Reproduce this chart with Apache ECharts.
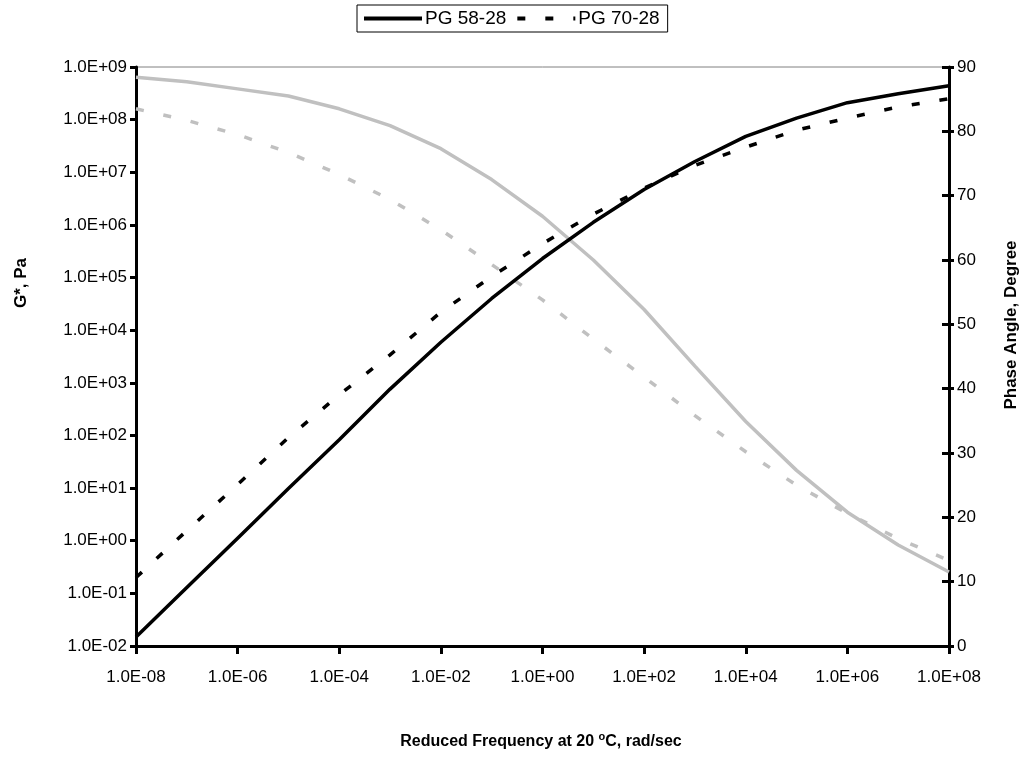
<!DOCTYPE html>
<html>
<head>
<meta charset="utf-8">
<title>Master curves: PG 58-28 and PG 70-28</title>
<script src="https://cdn.jsdelivr.net/npm/echarts@6/dist/echarts.min.js"></script>
<style>
  html, body { margin: 0; padding: 0; background: #fff; }
  #chart { width: 1026px; height: 759px; }
</style>
</head>
<body>
<div id="chart"></div>
<script>
// Reduced frequency at 20 °C (rad/sec), one point per decade
const freq = [1e-8, 1e-7, 1e-6, 1e-5, 1e-4, 1e-3, 1e-2, 1e-1, 1e0,
              1e1, 1e2, 1e3, 1e4, 1e5, 1e6, 1e7, 1e8];

// Dynamic shear modulus |G*| (Pa)
const gStarPG5828 = [0.0148, 0.129, 1.12, 9.8, 83, 760, 5900, 4.0e4, 2.3e5,
                     1.12e6, 4.7e6, 1.6e7, 4.8e7, 1.07e8, 2.1e8, 3.1e8, 4.4e8];
const gStarPG7028 = [0.20, 1.55, 11.7, 91, 590, 3400, 2.2e4, 1.05e5, 4.4e5,
                     1.6e6, 5.0e6, 1.35e7, 3.0e7, 6.3e7, 1.07e8, 1.74e8, 2.5e8];

// Phase angle (degrees)
const phasePG5828 = [88.4, 87.7, 86.6, 85.5, 83.5, 80.9, 77.3, 72.5, 66.8,
                     60.0, 52.3, 43.5, 34.9, 27.3, 20.8, 15.7, 11.5];
const phasePG7028 = [83.5, 81.7, 79.5, 76.7, 73.3, 69.4, 64.7, 59.3, 53.8,
                     47.7, 41.8, 35.8, 30.2, 25.0, 20.6, 16.7, 13.3];

const legendNames = ['PG 58-28', 'PG 70-28'];
const xTitle = 'Reduced Frequency at 20 {sup|o}C, rad/sec';
const yLeftTitle = 'G*, Pa';
const yRightTitle = 'Phase Angle, Degree';

const FONT = 'Liberation Sans, Arial, sans-serif';
const GREY = '#c0c0c0';

// 1.0E+09 style scientific labels
function sciLabel(v) {
  const e = Math.round(Math.log10(v));
  const mag = Math.abs(e);
  return '1.0E' + (e < 0 ? '-' : '+') + (mag < 10 ? '0' : '') + mag;
}

const pairs = arr => freq.map((f, i) => [f, arr[i]]);

const chart = echarts.init(document.getElementById('chart'), null, { renderer: 'canvas' });

chart.setOption({
  animation: false,
  backgroundColor: '#fff',
  textStyle: { fontFamily: FONT },
  grid: {
    left: 136, right: 77, top: 67, bottom: 113,
    show: true, borderColor: '#808080', borderWidth: 1, backgroundColor: 'transparent'
  },
  legend: {
    data: legendNames,
    left: 357, top: 5,
    padding: [4, 8, 4, 5],
    itemGap: 9,
    itemWidth: 58, itemHeight: 14,
    borderColor: '#000', borderWidth: 1,
    itemStyle: { opacity: 0 },
    lineStyle: { width: 4 },
    textStyle: { fontFamily: FONT, fontSize: 19, color: '#000', padding: [0, 0, 0, -2] }
  },
  xAxis: {
    type: 'log', logBase: 10,
    min: 1e-8, max: 1e8, interval: 2,
    axisLine: { lineStyle: { color: '#000', width: 3 } },
    axisTick: { show: true, inside: false, length: 8, lineStyle: { color: '#000', width: 3 } },
    axisLabel: { formatter: sciLabel, fontSize: 17, color: '#000', fontFamily: FONT, margin: 23 },
    splitLine: { show: false },
    minorTick: { show: false }
  },
  yAxis: [
    {
      type: 'log', logBase: 10,
      min: 1e-2, max: 1e9, interval: 1,
      position: 'left',
      axisLine: { show: true, lineStyle: { color: '#000', width: 3 } },
      axisTick: { show: true, inside: false, length: 6, lineStyle: { color: '#000', width: 3 } },
      axisLabel: { formatter: sciLabel, fontSize: 17, color: '#000', fontFamily: FONT, margin: 9 },
      splitLine: { show: false }
    },
    {
      type: 'value',
      min: 0, max: 90, interval: 10,
      position: 'right',
      axisLine: { show: true, lineStyle: { color: '#000', width: 3 } },
      axisTick: { show: true, inside: true, length: 7, lineStyle: { color: '#000', width: 3 } },
      axisLabel: { fontSize: 17, color: '#000', fontFamily: FONT, margin: 8 },
      splitLine: { show: false }
    },
    {
      // outer half of the crossing ticks on the phase-angle axis
      type: 'value',
      min: 0, max: 90, interval: 10,
      position: 'right',
      axisLine: { show: false },
      axisTick: { show: true, inside: false, length: 5, lineStyle: { color: '#000', width: 3 } },
      axisLabel: { show: false },
      splitLine: { show: false }
    }
  ],
  graphic: [
    {
      type: 'text', x: 541, y: 742,
      style: {
        text: xTitle, fontFamily: FONT, fontSize: 16, fontWeight: 'bold', fill: '#000',
        align: 'center', verticalAlign: 'middle',
        rich: { sup: { fontFamily: FONT, fontSize: 11, fontWeight: 'bold', verticalAlign: 'bottom', padding: [0, 0, 10, 0] } }
      }
    },
    {
      type: 'text', x: 21, y: 283, rotation: Math.PI / 2,
      style: { text: yLeftTitle, fontFamily: FONT, fontSize: 17, fontWeight: 'bold', fill: '#000',
               align: 'center', verticalAlign: 'middle' }
    },
    {
      type: 'text', x: 1011, y: 325, rotation: Math.PI / 2,
      style: { text: yRightTitle, fontFamily: FONT, fontSize: 17, fontWeight: 'bold', fill: '#000',
               align: 'center', verticalAlign: 'middle' }
    }
  ],
  series: [
    {
      name: 'PG 58-28', type: 'line', yAxisIndex: 0,
      data: pairs(gStarPG5828), symbol: 'none', smooth: false,
      lineStyle: { color: '#000', width: 3.5, type: 'solid' },
      itemStyle: { color: '#000' }, z: 4
    },
    {
      name: 'PG 70-28', type: 'line', yAxisIndex: 0,
      data: pairs(gStarPG7028), symbol: 'none', smooth: false,
      lineStyle: { color: '#000', width: 3.5, type: [8, 20] },
      itemStyle: { color: '#000' }, z: 4
    },
    {
      name: 'PG 58-28 phase angle', type: 'line', yAxisIndex: 1,
      data: pairs(phasePG5828), symbol: 'none', smooth: false,
      lineStyle: { color: GREY, width: 3.5, type: 'solid' },
      itemStyle: { color: GREY }, z: 3
    },
    {
      name: 'PG 70-28 phase angle', type: 'line', yAxisIndex: 1,
      data: pairs(phasePG7028), symbol: 'none', smooth: false,
      lineStyle: { color: GREY, width: 3.5, type: [8, 20] },
      itemStyle: { color: GREY }, z: 3
    }
  ]
});
</script>
</body>
</html>
